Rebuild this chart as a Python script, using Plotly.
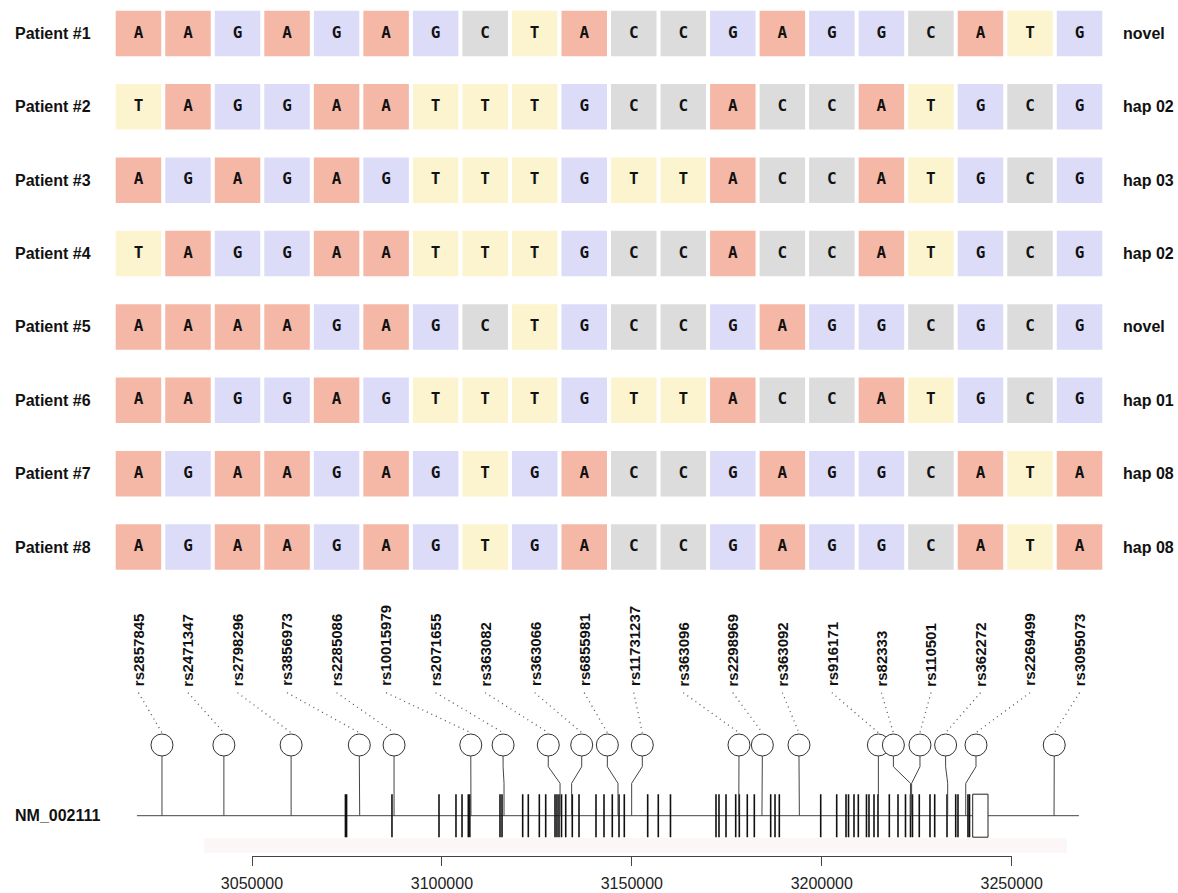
import plotly.graph_objects as go

# ---------------- data ----------------
patients = ["Patient #1", "Patient #2", "Patient #3", "Patient #4",
            "Patient #5", "Patient #6", "Patient #7", "Patient #8"]
haplotypes = ["novel", "hap 02", "hap 03", "hap 02", "novel", "hap 01", "hap 08", "hap 08"]
genotypes = [
    "AAGAGAGCTACCGAGGCATG",
    "TAGGAATTTGCCACCATGCG",
    "AGAGAGTTTGTTACCATGCG",
    "TAGGAATTTGCCACCATGCG",
    "AAAAGAGCTGCCGAGGCGCG",
    "AAGGAGTTTGTTACCATGCG",
    "AGAAGAGTGACCGAGGCATA",
    "AGAAGAGTGACCGAGGCATA",
]
snp_ids = ["rs2857845", "rs2471347", "rs2798296", "rs3856973", "rs2285086",
           "rs10015979", "rs2071655", "rs363082", "rs363066", "rs6855981",
           "rs11731237", "rs363096", "rs2298969", "rs363092", "rs916171",
           "rs82333", "rs110501", "rs362272", "rs2269499", "rs3095073"]
# genomic position of each SNP (bp)
snp_pos = [3026300, 3042600, 3060300, 3078350, 3087400, 3107650, 3116350,
           3131100, 3134150, 3146350, 3149950, 3178150, 3184250, 3194100,
           3214900, 3223350, 3223650, 3233150, 3237900, 3261150]
# displayed (spread) position of each lollipop head (bp)
lollipop_pos = [3026300, 3042600, 3060300, 3078250, 3087400, 3107600, 3116100,
                3128000, 3136800, 3143550, 3152750, 3178200, 3184350, 3194000,
                3214900, 3218850, 3225850, 3232600, 3240600, 3261200]
exon_pos = [3074600, 3074900, 3086850, 3099230, 3103700, 3105290, 3106950, 3107350,
            3115290, 3115820, 3121260, 3122740, 3125640, 3127320, 3129770, 3130290,
            3130820, 3131480, 3132590, 3134320, 3136090, 3140560, 3142670, 3144850,
            3146620, 3148010, 3154170, 3156960, 3160170, 3172150, 3172940, 3174790,
            3177340, 3178290, 3180390, 3182240, 3186550, 3187690, 3188820, 3199720,
            3203930, 3206380, 3207040, 3208480, 3209620, 3211770, 3212430, 3213750,
            3214800, 3217780, 3220070, 3222040, 3223360, 3223880, 3225670, 3228490,
            3229730, 3232970, 3235260, 3235860, 3238490, 3238890]
utr_start, utr_end = 3239730, 3243760
gene_start, gene_end = 3019700, 3267700
region_start, region_end = 3037400, 3264500
gene_name = "NM_002111"
axis_ticks = [3050000, 3100000, 3150000, 3200000, 3250000]
base_colors = {"A": "#F5B8A7", "G": "#DCDCF8", "C": "#DCDCDC", "T": "#FBF4CE"}

# ---------------- layout geometry (pixels) ----------------
W, H = 1178, 893
AX_L_PX, AX_R_PX = 252.0, 1011.7          # pixel of first / last axis tick
bp_per_px = (axis_ticks[-1] - axis_ticks[0]) / (AX_R_PX - AX_L_PX)
x_range = [axis_ticks[0] - AX_L_PX * bp_per_px, axis_ticks[0] + (W - AX_L_PX) * bp_per_px]

TILE_L, TILE_R = 113.7, 1104.3
ROW1_PX, ROW_STEP = 33.5, 73.36
Y2_TOP, Y2_BOT = 0.0, 600.0
y2_range = [1 + (Y2_BOT - ROW1_PX) / ROW_STEP, 1 - (ROW1_PX - Y2_TOP) / ROW_STEP]

GENE_PX = 815.7
YG_TOP, YG_BOT = 590.0, 855.7
yg_range = [-(YG_BOT - GENE_PX), GENE_PX - YG_TOP]

EXON_H = 21.5
HEAD_Y = 70.7
HEAD_R = 11
BEND1, BEND2 = 49.0, 32.4
DOT_LO, DOT_HI = 83.0, 123.0
LABEL_Y = 127.5

ncol = len(snp_ids)

def col_to_bp(i):
    px = TILE_L + (i + 0.5) * (TILE_R - TILE_L) / ncol
    return x_range[0] + px / W * (x_range[1] - x_range[0])

fig = go.Figure()

# tiles
tx, ty, tc, tt = [], [], [], []
for r, row in enumerate(genotypes):
    for c, b in enumerate(row):
        tx.append(c); ty.append(r + 1); tc.append(base_colors[b]); tt.append(b)
fig.add_trace(go.Scatter(
    x=tx, y=ty, xaxis="x2", yaxis="y2", mode="markers+text",
    marker=dict(symbol="square", size=45.5, color=tc, line=dict(width=0)),
    text=tt, textposition="middle center",
    textfont=dict(family="DejaVu Sans Mono", size=16, color="#111", weight="bold"),
    hoverinfo="skip", cliponaxis=False))

# gene line
fig.add_trace(go.Scatter(x=[gene_start, gene_end], y=[0, 0], mode="lines",
                         line=dict(color="#444", width=1), hoverinfo="skip"))
# exons
ex, ey = [], []
for p in exon_pos:
    ex += [p, p, None]; ey += [-EXON_H, EXON_H, None]
fig.add_trace(go.Scatter(x=ex, y=ey, mode="lines", line=dict(color="#111", width=1.6),
                         hoverinfo="skip"))
# stems
sx, sy = [], []
for p, hp in zip(snp_pos, lollipop_pos):
    sx += [hp, hp, p, p, None]
    sy += [HEAD_Y - HEAD_R, BEND1, BEND2, 0, None]
fig.add_trace(go.Scatter(x=sx, y=sy, mode="lines", line=dict(color="#444", width=1),
                         hoverinfo="skip"))
# dotted connectors
dx, dy = [], []
for i, hp in enumerate(lollipop_pos):
    dx += [col_to_bp(i), hp, None]
    dy += [DOT_HI, DOT_LO, None]
fig.add_trace(go.Scatter(x=dx, y=dy, mode="lines",
                         line=dict(color="#555", width=1.3, dash="1px,4px"),
                         hoverinfo="skip"))
# heads
fig.add_trace(go.Scatter(x=lollipop_pos, y=[HEAD_Y] * ncol, mode="markers",
                         marker=dict(symbol="circle", size=2 * HEAD_R, color="white",
                                     line=dict(color="#333", width=1)),
                         hoverinfo="skip", cliponaxis=False))
# dummy trace for the visible axis
fig.add_trace(go.Scatter(x=[axis_ticks[0]], y=[None], xaxis="x3", yaxis="y",
                         mode="markers", hoverinfo="skip"))

shapes = [
    dict(type="rect", xref="x", yref="y", x0=region_start, x1=region_end,
         y0=-37.3, y1=-22.5, fillcolor="#FDF6F6", line=dict(width=0), layer="below"),
    dict(type="rect", xref="x", yref="y", x0=utr_start, x1=utr_end,
         y0=-EXON_H, y1=EXON_H, fillcolor="white", line=dict(color="#222", width=1),
         layer="above"),
]

ann = []
lab_font = dict(family="Liberation Sans", size=16, color="#111")
for r, (pn, hn) in enumerate(zip(patients, haplotypes)):
    ann.append(dict(xref="paper", yref="y2", x=13 / W, y=r + 1, text=f"<b>{pn}</b>",
                    showarrow=False, xanchor="left", yanchor="middle", font=lab_font))
    ann.append(dict(xref="paper", yref="y2", x=1121 / W, y=r + 1, text=f"<b>{hn}</b>",
                    showarrow=False, xanchor="left", yanchor="middle", font=lab_font))
for i, s in enumerate(snp_ids):
    ann.append(dict(xref="x2", yref="y", x=i, y=LABEL_Y, text=f"<b>{s}</b>",
                    textangle=-90, showarrow=False, xanchor="center", yanchor="bottom",
                    font=dict(family="Liberation Sans", size=15, color="#111")))
ann.append(dict(xref="paper", yref="y", x=13 / W, y=0, text=f"<b>{gene_name}</b>",
                showarrow=False, xanchor="left", yanchor="middle", font=lab_font))

fig.update_layout(
    template="none",
    width=W, height=H, autosize=False,
    margin=dict(l=0, r=0, t=0, b=0, pad=0, autoexpand=False),
    paper_bgcolor="white", plot_bgcolor="rgba(0,0,0,0)", showlegend=False, hovermode=False,
    shapes=shapes, annotations=ann,
    xaxis=dict(domain=[0, 1], range=x_range, visible=False, anchor="y", automargin=False),
    yaxis=dict(domain=[1 - YG_BOT / H, 1 - YG_TOP / H], range=yg_range, visible=False,
               anchor="x", automargin=False),
    xaxis2=dict(domain=[TILE_L / W, TILE_R / W], range=[-0.5, ncol - 0.5], visible=False,
                anchor="y2", automargin=False),
    yaxis2=dict(domain=[1 - Y2_BOT / H, 1 - Y2_TOP / H], range=y2_range, visible=False,
                anchor="x2", automargin=False),
    xaxis3=dict(domain=[AX_L_PX / W, AX_R_PX / W], range=[axis_ticks[0], axis_ticks[-1]],
                anchor="y", showline=True, linecolor="#444", linewidth=1,
                ticks="outside", ticklen=9, tickcolor="#444", tickwidth=1,
                ticklabelstandoff=4,
                tickvals=axis_ticks, ticktext=[str(v) for v in axis_ticks],
                tickfont=dict(family="Liberation Sans", size=16, color="#222"),
                showgrid=False, zeroline=False, automargin=False),
)

fig.write_html("out.html", config={"responsive": False, "displayModeBar": False},
               post_script="document.body.style.margin='0';")
